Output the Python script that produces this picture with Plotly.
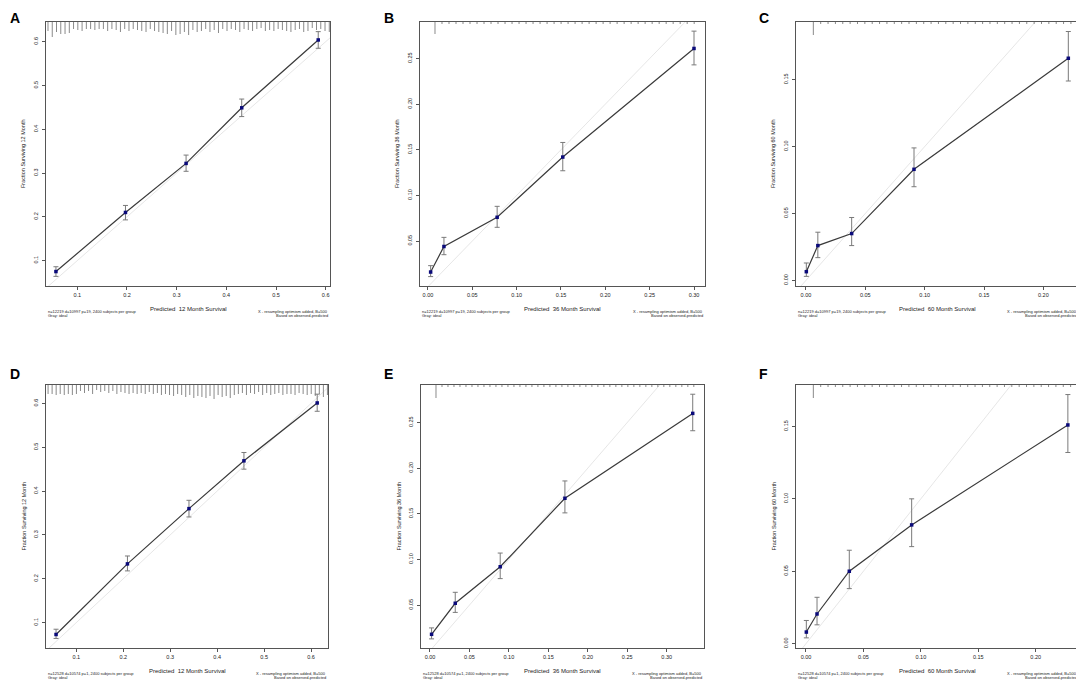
import plotly.graph_objects as go

# the page puts the figure 8px in from the top-left corner
OFF = 8
W, H = 1084 - OFF, 685 - OFF

panel_letters = ["A", "B", "C", "D", "E", "F"]
horizons = ["12", "36", "60", "12", "36", "60"]
note_left = ["n=12219 d=10997 p=19, 2400 subjects per group"] * 3 + \
            ["n=12528 d=10574 p=1, 2400 subjects per group"] * 3
note_right = ["X - resampling optimism added, B=500", "Based on observed-predicted"]

# calibration points (predicted vs observed) with their error bar bounds
a_pred = [0.057, 0.197, 0.319, 0.431, 0.585]
a_obs = [0.075, 0.210, 0.322, 0.449, 0.604]
a_lo = [0.064, 0.193, 0.304, 0.429, 0.585]
a_hi = [0.086, 0.226, 0.341, 0.469, 0.623]

b_pred = [0.003, 0.018, 0.078, 0.152, 0.300]
b_obs = [0.016, 0.044, 0.076, 0.142, 0.261]
b_lo = [0.011, 0.035, 0.065, 0.127, 0.243]
b_hi = [0.023, 0.054, 0.088, 0.158, 0.280]

c_pred = [0.0003, 0.010, 0.0385, 0.091, 0.221]
c_obs = [0.0065, 0.026, 0.035, 0.083, 0.166]
c_lo = [0.003, 0.017, 0.026, 0.070, 0.149]
c_hi = [0.013, 0.036, 0.047, 0.099, 0.186]

d_pred = [0.057, 0.209, 0.340, 0.457, 0.613]
d_obs = [0.073, 0.234, 0.360, 0.469, 0.601]
d_lo = [0.064, 0.218, 0.341, 0.450, 0.582]
d_hi = [0.085, 0.252, 0.379, 0.488, 0.621]

e_pred = [0.002, 0.032, 0.089, 0.171, 0.333]
e_obs = [0.018, 0.052, 0.092, 0.167, 0.260]
e_lo = [0.013, 0.042, 0.079, 0.151, 0.241]
e_hi = [0.025, 0.064, 0.107, 0.186, 0.281]

f_pred = [0.0003, 0.0096, 0.0377, 0.092, 0.228]
f_obs = [0.008, 0.0205, 0.050, 0.082, 0.151]
f_lo = [0.004, 0.013, 0.038, 0.067, 0.132]
f_hi = [0.016, 0.032, 0.0645, 0.100, 0.172]

# spike histogram of predictions along the top (relative bin heights)
a_spikes = [9, 15, 10, 12, 12, 11, 7, 8, 9, 7, 7, 8, 7, 7, 9, 7, 8, 10, 7, 9, 7, 8, 9, 10, 7, 9, 10, 11, 12, 9,
            13, 12, 10, 13, 8, 10, 9, 7, 10, 8, 11, 7, 9, 7, 8, 10, 7, 8, 9, 7, 6, 9, 8, 9, 7, 8, 9, 10, 8, 7,
            10, 9, 6, 8, 7, 9, 10]
b_spikes = [12, 2, 2, 2, 2, 2, 2, 2, 2, 2, 2, 2, 2, 2, 2, 2, 2, 2, 2, 2, 2, 2, 2, 2, 2, 2, 2, 2, 2, 2,
            2, 2, 2, 2, 2, 2, 2, 2]
c_spikes = [13, 2, 2, 2, 2, 2, 2, 2, 2, 2, 2, 2, 2, 2, 2, 2, 2, 2, 2, 2, 2, 2, 2, 2, 2, 2, 2, 2, 2, 2,
            2, 2, 2, 2, 2, 2]
d_spikes = [9, 9, 10, 9, 10, 9, 10, 9, 6, 8, 6, 9, 5, 7, 6, 8, 6, 9, 7, 8, 9, 8, 9, 8, 9, 7, 9, 8, 10, 9,
            10, 11, 9, 10, 12, 10, 13, 11, 12, 13, 11, 14, 10, 12, 11, 13, 10, 9, 8, 10, 8, 9, 7, 10, 8,
            10, 9, 8, 10, 9, 9, 10, 8, 9, 10, 9, 11, 9, 12, 10]
e_spikes = [13, 2, 2, 2, 2, 2, 2, 2, 2, 2, 2, 2, 2, 2, 2, 2, 2, 2, 2, 2, 2, 2, 2, 2, 2, 2, 2, 2, 2, 2,
            2, 2, 2, 2, 2, 2, 2, 2, 2, 2, 2, 2, 2, 2]
f_spikes = [13, 2, 2, 2, 2, 2, 2, 2, 2, 2, 2, 2, 2, 2, 2, 2, 2, 2, 2, 2, 2, 2, 2, 2, 2, 2, 2, 2, 2, 2,
            2, 2, 2, 2, 2, 2]
# first bin centre and bin width for each spike histogram
spike_bins = [(0.041, 0.00858), (0.0079, 0.0079), (0.0062, 0.0062),
              (0.040, 0.00862), (0.0076, 0.0076), (0.0064, 0.0064)]

x_ranges = [[0.037, 0.6087], [-0.009, 0.3124], [-0.0084, 0.230],
            [0.0356, 0.636], [-0.0114, 0.3473], [-0.0087, 0.2377]]
y_ranges = [[0.042, 0.645], [0.0007, 0.290], [-0.0042, 0.1931],
            [0.0422, 0.6419], [0.003, 0.2911], [-0.003, 0.1786]]
x_ticks = [[0.1, 0.2, 0.3, 0.4, 0.5, 0.6], [0, 0.05, 0.10, 0.15, 0.20, 0.25, 0.30], [0, 0.05, 0.10, 0.15, 0.20],
           [0.1, 0.2, 0.3, 0.4, 0.5, 0.6], [0, 0.05, 0.10, 0.15, 0.20, 0.25, 0.30], [0, 0.05, 0.10, 0.15, 0.20]]
y_ticks = [[0.1, 0.2, 0.3, 0.4, 0.5, 0.6], [0.05, 0.10, 0.15, 0.20, 0.25], [0, 0.05, 0.10, 0.15],
           [0.1, 0.2, 0.3, 0.4, 0.5, 0.6], [0.05, 0.10, 0.15, 0.20, 0.25], [0, 0.05, 0.10, 0.15]]
tick_fmt = [".1f", ".2f", ".2f", ".1f", ".2f", ".2f"]

panels = [(a_pred, a_obs, a_lo, a_hi, a_spikes), (b_pred, b_obs, b_lo, b_hi, b_spikes),
          (c_pred, c_obs, c_lo, c_hi, c_spikes), (d_pred, d_obs, d_lo, d_hi, d_spikes),
          (e_pred, e_obs, e_lo, e_hi, e_spikes), (f_pred, f_obs, f_lo, f_hi, f_spikes)]

# plot area of every panel in window pixels: (left, right), (top, bottom)
px_x = [(46, 330), (420, 705), (796, 1079), (46, 328), (421, 704), (796, 1079)]
px_y = [(22, 286), (22, 286), (22, 286), (385, 648), (385, 648), (385, 648)]
# panel letter positions in window pixels (left, centre y)
letter_pos = [(4, 11), (382, 11), (757, 11), (4, 374), (382, 374), (757, 374)]


def fx(px):
    return (px - OFF) / W


def fy(py):
    return 1 - (py - OFF) / H


FONT = "Liberation Sans, Arial, sans-serif"
fig = go.Figure()
annotations = []

for i, (pred, obs, lo, hi, spikes) in enumerate(panels):
    n = "" if i == 0 else str(i + 1)
    xa, ya = "x" + n, "y" + n
    xr, yr = x_ranges[i], y_ranges[i]
    (l, r), (t, b) = px_x[i], px_y[i]

    # ideal (gray diagonal)
    lo_d, hi_d = min(xr[0], yr[0]), max(xr[1], yr[1])
    fig.add_trace(go.Scatter(x=[lo_d, hi_d], y=[lo_d, hi_d], mode="lines", xaxis=xa, yaxis=ya,
                             line=dict(color="#e0e0e0", width=0.8), hoverinfo="skip", showlegend=False))

    # spike histogram hanging from the top border
    y_per_px = (yr[1] - yr[0]) / (b - t)
    start, width = spike_bins[i]
    sx, sy = [], []
    for k, s in enumerate(spikes):
        xk = start + k * width
        sx += [xk, xk, None]
        sy += [yr[1], yr[1] - s * y_per_px, None]
    fig.add_trace(go.Scatter(x=sx, y=sy, mode="lines", xaxis=xa, yaxis=ya,
                             line=dict(color="#8a8a8a", width=1), hoverinfo="skip", showlegend=False))

    # apparent calibration with error bars
    fig.add_trace(go.Scatter(
        x=pred, y=obs, mode="lines+markers", xaxis=xa, yaxis=ya, showlegend=False,
        line=dict(color="#3a3a3a", width=1.2),
        marker=dict(symbol="square", size=3.5, color="#0a0a7a"),
        error_y=dict(type="data", symmetric=False,
                     array=[h - o for h, o in zip(hi, obs)],
                     arrayminus=[o - v for o, v in zip(obs, lo)],
                     color="#7a7a7a", thickness=1, width=2.5)))

    axis_style = dict(showline=True, linecolor="#555", linewidth=1, mirror=True, showgrid=False,
                      zeroline=False, ticks="outside", ticklen=3, tickcolor="#555", tickwidth=1,
                      tickfont=dict(family=FONT, size=5.5, color="#222"), tickformat=tick_fmt[i])
    fig.update_layout(**{
        "xaxis" + n: dict(domain=[fx(l), fx(r)], anchor=ya, range=xr, tickvals=x_ticks[i], **axis_style),
        "yaxis" + n: dict(domain=[fy(b), fy(t)], anchor=xa, range=yr, tickvals=y_ticks[i], tickangle=-90,
                          ticklabelstandoff=2, **axis_style),
    })

    lx, ly = letter_pos[i]
    small = dict(family=FONT, size=4, color="#222")
    if i < 3:
        letter = dict(y=1, yanchor="top")
    else:
        letter = dict(y=fy(ly), yanchor="middle")
    annotations += [
        dict(text="<b>" + panel_letters[i] + "</b>", x=max(fx(lx), 0), xref="paper", yref="paper",
             xanchor="left", showarrow=False, font=dict(family=FONT, size=14, color="black"), **letter),
        dict(text="Predicted  " + horizons[i] + " Month Survival", x=fx((l + r) / 2), y=fy(b + 23),
             xref="paper", yref="paper", xanchor="center", yanchor="middle", showarrow=False,
             font=dict(family=FONT, size=6, color="#222")),
        dict(text="Fraction Surviving " + horizons[i] + " Month", x=fx(l - 23), y=fy((t + b) / 2),
             xref="paper", yref="paper", xanchor="center", yanchor="middle", textangle=-90,
             showarrow=False, font=dict(family=FONT, size=5.5, color="#222")),
        dict(text=note_left[i], x=fx(l), y=fy(b + 25), xref="paper", yref="paper",
             xanchor="left", yanchor="middle", showarrow=False, font=small),
        dict(text="Gray: ideal", x=fx(l), y=fy(b + 29.5), xref="paper", yref="paper",
             xanchor="left", yanchor="middle", showarrow=False, font=small),
        dict(text=note_right[0], x=fx(r), y=fy(b + 25), xref="paper", yref="paper",
             xanchor="right", yanchor="middle", showarrow=False, font=small),
        dict(text=note_right[1], x=fx(r), y=fy(b + 29.5), xref="paper", yref="paper",
             xanchor="right", yanchor="middle", showarrow=False, font=small),
    ]

fig.update_layout(width=W, height=H, margin=dict(l=0, r=0, t=0, b=0),
                  paper_bgcolor="white", plot_bgcolor="white",
                  annotations=annotations, showlegend=False)

fig.write_html("out.html")
